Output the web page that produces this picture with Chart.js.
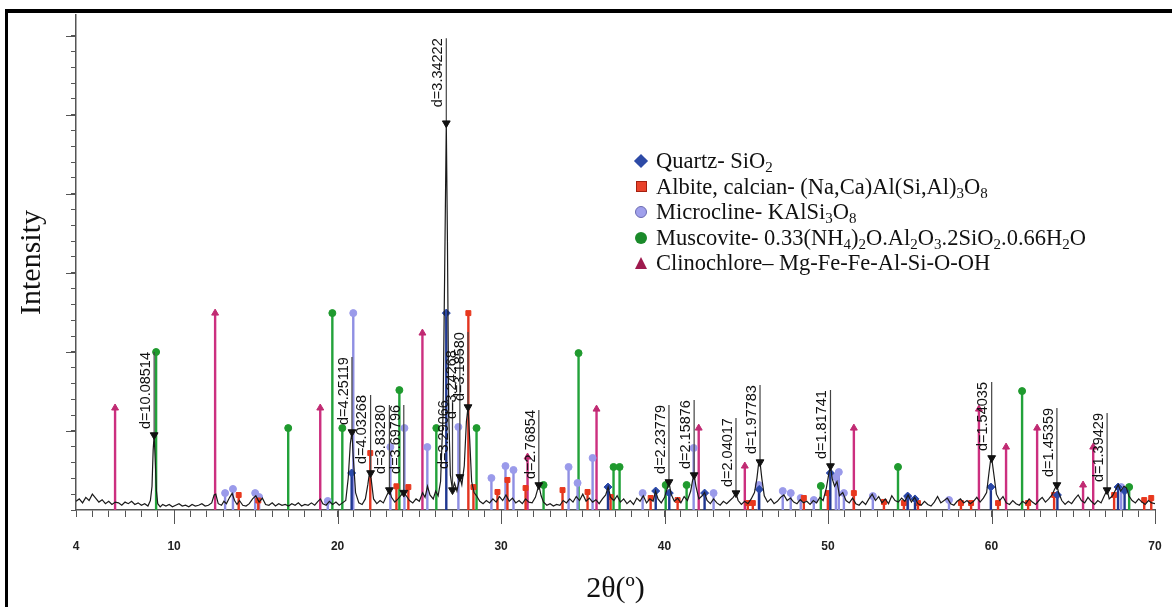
<!DOCTYPE html>
<html>
<head>
<meta charset="utf-8">
<title>XRD pattern</title>
<script src="https://cdn.jsdelivr.net/npm/chart.js"></script>
<style>
  html, body { margin: 0; padding: 0; background: #fff; }
  #wrap { position: relative; width: 1172px; height: 607px; overflow: hidden; background: #fff; }
  #chart { position: absolute; left: 0; top: 0; }
  #frame { position: absolute; left: 5px; top: 9px; right: 0; bottom: 0; border-top: 4px solid #000; border-left: 3px solid #000; pointer-events: none; }
  #legend { position: absolute; left: 632px; top: 148px; font-family: 'Liberation Serif', 'Times New Roman', serif; font-size: 22.5px; color: #111; line-height: 25.5px; }
  #legend .row { position: relative; white-space: nowrap; padding-left: 24px; height: 25.5px; }
  #legend sub { font-size: 15px; vertical-align: -4px; line-height: 0; }
  .mk { position: absolute; box-sizing: border-box; }
  .diamond { left: 4px; top: 8px; width: 10px; height: 10px; transform: rotate(45deg); }
  .square { left: 3.5px; top: 7.5px; width: 11px; height: 11px; border: 1px solid #a52010; }
  .circle { left: 3px; top: 7px; width: 12px; height: 12px; border-radius: 50%; }
  .triangle { left: 2.5px; top: 6.5px; width: 0; height: 0; border-left: 6.5px solid transparent; border-right: 6.5px solid transparent; border-bottom: 12px solid; }
</style>
</head>
<body>
<div id="wrap">
  <canvas id="chart" width="1172" height="607"></canvas>
  <div id="legend"></div>
  <div id="frame"></div>
</div>
<script>
// axis
const thetaMin = 4, thetaMax = 70;
const xLabelTicks = [4, 10, 20, 30, 40, 50, 60, 70];
const xMajorTicks = [10, 20, 30, 40, 50, 60, 70];
const yMax = 3130;
const yMajorTicks = [500, 1000, 1500, 2000, 2500, 3000];

// measured pattern [2theta, counts]
const trace = [
  [4.0,55],[4.2,70],[4.4,45],[4.6,80],[4.8,60],[5.0,100],[5.2,75],[5.4,50],[5.6,65],[5.8,40],
  [6.0,55],[6.2,35],[6.4,50],[6.6,45],[6.8,30],[7.0,50],[7.2,40],[7.4,55],[7.6,35],[7.8,45],
  [8.0,30],[8.2,40],[8.4,25],[8.55,60],[8.65,150],[8.72,380],[8.78,474],[8.84,330],[8.92,120],[9.0,40],
  [9.15,20],[9.3,35],[9.5,25],[9.7,35],[9.9,20],[10.1,30],[10.3,40],[10.5,25],[10.7,30],[10.9,20],
  [11.1,35],[11.3,25],[11.5,30],[11.7,40],[11.9,25],[12.1,30],[12.3,45],[12.45,95],[12.55,100],[12.7,40],
  [12.9,30],[13.05,55],[13.2,40],[13.4,80],[13.55,105],[13.7,60],[13.85,35],[14.0,60],[14.2,30],[14.4,25],
  [14.6,40],[14.8,70],[15.0,90],[15.2,50],[15.4,75],[15.6,35],[15.8,30],[16.0,45],[16.2,25],[16.4,40],
  [16.6,30],[16.8,35],[17.0,25],[17.2,40],[17.4,30],[17.6,45],[17.8,25],[18.0,35],[18.2,30],[18.4,45],
  [18.6,30],[18.8,55],[18.95,70],[19.1,40],[19.3,30],[19.5,55],[19.7,35],[19.9,50],[20.1,30],[20.3,45],
  [20.5,60],[20.65,200],[20.78,420],[20.88,493],[20.96,330],[21.1,110],[21.3,45],[21.5,35],[21.7,70],[21.85,160],
  [21.95,234],[22.05,200],[22.2,70],[22.4,40],[22.6,60],[22.8,45],[23.0,90],[23.17,126],[23.3,80],[23.5,50],
  [23.7,70],[23.9,95],[24.05,110],[24.2,90],[24.4,60],[24.6,45],[24.8,70],[25.0,55],[25.2,110],[25.35,80],
  [25.5,150],[25.65,95],[25.85,70],[26.0,120],[26.15,90],[26.3,180],[26.45,600],[26.55,1500],[26.65,2446],[26.72,1700],
  [26.8,600],[26.9,220],[27.03,126],[27.15,170],[27.3,120],[27.48,209],[27.6,160],[27.75,280],[27.88,560],[27.98,651],
  [28.08,450],[28.2,180],[28.35,110],[28.5,90],[28.7,55],[28.9,40],[29.1,60],[29.3,45],[29.5,70],[29.7,50],
  [29.9,85],[30.1,60],[30.3,95],[30.5,55],[30.7,75],[30.9,45],[31.1,60],[31.3,40],[31.5,70],[31.7,50],
  [31.9,45],[32.1,80],[32.31,158],[32.45,90],[32.6,50],[32.8,30],[33.0,40],[33.2,25],[33.4,35],[33.6,30],
  [33.8,60],[34.0,45],[34.2,70],[34.4,50],[34.6,85],[34.8,60],[35.0,100],[35.2,55],[35.4,75],[35.6,50],
  [35.8,65],[36.0,40],[36.2,70],[36.4,95],[36.55,145],[36.7,80],[36.9,60],[37.1,90],[37.3,50],[37.5,70],
  [37.7,40],[37.9,60],[38.1,35],[38.3,75],[38.5,55],[38.7,90],[38.9,45],[39.1,70],[39.3,55],[39.45,120],
  [39.6,70],[39.8,45],[40.0,80],[40.15,130],[40.27,177],[40.4,100],[40.6,55],[40.8,75],[41.0,45],[41.2,85],
  [41.4,60],[41.6,120],[41.72,190],[41.81,221],[41.92,150],[42.1,70],[42.3,90],[42.45,110],[42.6,60],[42.8,40],
  [43.0,70],[43.2,45],[43.4,30],[43.6,55],[43.8,40],[44.0,60],[44.2,80],[44.37,107],[44.5,60],[44.7,35],
  [44.9,55],[45.1,40],[45.3,70],[45.5,110],[45.65,200],[45.75,290],[45.84,303],[45.95,200],[46.1,90],[46.3,50],
  [46.5,70],[46.7,40],[46.9,55],[47.1,80],[47.3,95],[47.5,60],[47.7,75],[47.9,50],[48.1,40],[48.3,65],
  [48.5,45],[48.7,55],[48.9,35],[49.1,60],[49.3,45],[49.5,80],[49.7,60],[49.9,140],[50.05,230],[50.15,278],
  [50.25,200],[50.4,150],[50.55,180],[50.7,90],[50.9,110],[51.1,60],[51.3,45],[51.5,75],[51.7,40],[51.9,30],
  [52.1,55],[52.3,35],[52.5,70],[52.7,100],[52.9,60],[53.1,85],[53.3,45],[53.5,70],[53.7,40],[53.9,90],
  [54.1,60],[54.3,50],[54.5,75],[54.7,55],[54.9,95],[55.1,50],[55.3,80],[55.5,40],[55.7,30],[55.9,55],
  [56.1,35],[56.3,25],[56.5,50],[56.7,85],[56.9,45],[57.1,60],[57.3,75],[57.5,40],[57.7,30],[57.9,55],
  [58.1,70],[58.3,45],[58.5,60],[58.7,40],[58.9,55],[59.1,80],[59.3,50],[59.5,75],[59.7,110],[59.85,240],
  [59.95,320],[60.01,329],[60.15,220],[60.3,100],[60.5,60],[60.7,85],[60.9,45],[61.1,35],[61.3,60],[61.5,40],
  [61.7,30],[61.9,55],[62.1,40],[62.3,70],[62.5,50],[62.7,35],[62.9,60],[63.1,80],[63.3,50],[63.5,70],
  [63.7,95],[63.85,130],[64.0,158],[64.1,110],[64.3,60],[64.5,35],[64.7,55],[64.9,40],[65.1,70],[65.3,95],
  [65.5,60],[65.7,45],[65.9,80],[66.1,55],[66.3,35],[66.5,60],[66.7,45],[66.9,90],[67.07,126],[67.2,70],
  [67.4,90],[67.6,130],[67.75,160],[67.9,120],[68.1,150],[68.25,140],[68.4,90],[68.6,60],[68.8,45],[69.0,70],
  [69.2,50],[69.4,35],[69.6,60],[69.8,45],[70.0,40]
];

// reference phase lines: positions (2theta) and heights (counts)
const quartzPos = [20.86, 26.65, 36.54, 39.46, 40.29, 42.45, 45.79, 50.14, 54.87, 55.32, 59.96, 64.03, 67.74, 68.14];
const quartzInt = [234, 1245, 145, 120, 107, 107, 130, 234, 88, 70, 145, 95, 145, 120];

const albitePos = [13.95, 15.15, 22.0, 23.6, 24.33, 28.0, 28.31, 29.78, 30.39, 31.5, 33.76, 35.29, 36.7, 39.15, 40.8, 45.09, 45.4, 48.52, 49.99, 51.58, 53.42, 54.64, 55.5, 58.13, 58.75, 60.4, 62.24, 63.83, 67.5, 69.34, 69.77];
const albiteInt = [95, 60, 360, 150, 145, 1245, 145, 114, 190, 139, 126, 114, 82, 76, 63, 44, 44, 76, 107, 107, 51, 44, 44, 44, 44, 44, 44, 95, 95, 63, 76];

const microPos = [13.12, 13.6, 14.96, 15.2, 19.4, 20.96, 23.23, 24.09, 25.49, 27.39, 29.41, 30.27, 30.76, 34.13, 34.68, 35.6, 38.66, 41.78, 43.0, 45.76, 47.23, 47.72, 48.33, 49.13, 50.48, 50.66, 50.97, 52.74, 54.89, 57.4, 67.93];
const microInt = [107, 133, 107, 82, 57, 1245, 398, 518, 398, 525, 202, 278, 253, 272, 171, 329, 107, 392, 107, 158, 120, 107, 76, 63, 209, 240, 107, 88, 82, 63, 145];

const muscPos = [8.9, 16.98, 19.68, 20.29, 23.78, 26.04, 28.5, 32.6, 34.74, 36.88, 37.25, 40.07, 41.35, 49.56, 54.28, 61.87, 68.42];
const muscInt = [999, 518, 1245, 518, 758, 518, 518, 158, 992, 272, 272, 158, 158, 152, 272, 752, 145];

const clinoPos = [6.39, 12.51, 18.94, 25.19, 31.62, 35.84, 42.09, 44.91, 51.58, 59.23, 60.89, 62.79, 65.6, 66.22];
const clinoInt = [645, 1245, 645, 1119, 335, 638, 518, 278, 518, 638, 398, 518, 158, 398];

// labelled peaks
const dTheta = [8.78, 20.88, 22.02, 23.17, 24.05, 26.65, 27.03, 27.48, 27.98, 32.31, 40.27, 41.81, 44.37, 45.84, 50.15, 60.01, 64.0, 67.07];
const dPeak  = [474, 493, 234, 126, 110, 2446, 126, 209, 651, 158, 177, 221, 107, 303, 278, 329, 158, 126];
const dTop   = [999, 967, 727, 664, 664, 2983, 695, 1011, 1125, 632, 664, 695, 581, 790, 758, 809, 645, 613];
const dText  = ['d=10.08514', 'd=4.25119', 'd=4.03268', 'd=3.83280', 'd=3.69796', 'd=3.34222', 'd=3.29066', 'd=3.24268',
                'd=3.18580', 'd=2.76854', 'd=2.23779', 'd=2.15876', 'd=2.04017', 'd=1.97783', 'd=1.81741', 'd=1.54035',
                'd=1.45359', 'd=1.39429'];

// legend
const legendHtml = [
  'Quartz- SiO<sub>2</sub>',
  'Albite, calcian- (Na,Ca)Al(Si,Al)<sub>3</sub>O<sub>8</sub>',
  'Microcline- KAlSi<sub>3</sub>O<sub>8</sub>',
  'Muscovite- 0.33(NH<sub>4</sub>)<sub>2</sub>O.Al<sub>2</sub>O<sub>3</sub>.2SiO<sub>2</sub>.0.66H<sub>2</sub>O',
  'Clinochlore\u2013 Mg-Fe-Fe-Al-Si-O-OH'
];
const legendShape = ['diamond', 'square', 'circle', 'circle', 'triangle'];
const legendColor = ['#2d4aa6', '#e9432b', '#a0a0ec', '#1a8a2a', '#9e1a4e'];

const legendBox = document.getElementById('legend');
legendHtml.forEach((h, i) => {
  const row = document.createElement('div');
  row.className = 'row';
  const mk = document.createElement('span');
  mk.className = 'mk ' + legendShape[i];
  if (legendShape[i] === 'triangle') mk.style.borderBottomColor = legendColor[i];
  else mk.style.background = legendColor[i];
  if (i === 2) mk.style.border = '1px solid #6a6ab0';
  row.appendChild(mk);
  row.insertAdjacentHTML('beforeend', h);
  legendBox.appendChild(row);
});

function sticks(pos, vals) {
  const pts = [];
  pos.forEach((p, i) => {
    pts.push({ x: p, y: 0 }, { x: p, y: vals[i] }, { x: p, y: null });
  });
  return pts;
}

function stickSet(label, pos, vals, line, fill, style, r, order) {
  return {
    label: label,
    data: sticks(pos, vals),
    borderColor: line,
    borderWidth: 2.4,
    pointStyle: style,
    pointBackgroundColor: fill,
    pointBorderColor: fill,
    pointBorderWidth: 1,
    pointRadius: ctx => (ctx.raw && ctx.raw.y > 0 ? r : 0),
    order: order
  };
}

const leaders = [];
dTheta.forEach((t, i) => {
  leaders.push({ x: t, y: dPeak[i] }, { x: t, y: dTop[i] }, { x: t, y: null });
});

const majorTicks = {
  id: 'majorTicks',
  afterDraw(chart) {
    const { ctx, chartArea } = chart;
    const x = chart.scales.x, y = chart.scales.y;
    ctx.save();
    ctx.strokeStyle = '#555';
    ctx.lineWidth = 1;
    xMajorTicks.forEach(v => {
      const px = Math.round(x.getPixelForValue(v)) + 0.5;
      ctx.beginPath(); ctx.moveTo(px, chartArea.bottom); ctx.lineTo(px, chartArea.bottom + 14); ctx.stroke();
    });
    yMajorTicks.forEach(v => {
      const py = Math.round(y.getPixelForValue(v)) + 0.5;
      ctx.beginPath(); ctx.moveTo(chartArea.left - 10, py); ctx.lineTo(chartArea.left, py); ctx.stroke();
    });
    ctx.restore();
  }
};

const dLabels = {
  id: 'dLabels',
  afterDatasetsDraw(chart) {
    const { ctx } = chart;
    const x = chart.scales.x, y = chart.scales.y;
    ctx.save();
    ctx.fillStyle = '#111';
    ctx.font = '14.5px "Liberation Sans", Arial, sans-serif';
    ctx.textAlign = 'right';
    ctx.textBaseline = 'bottom';
    dTheta.forEach((t, i) => {
      const px = x.getPixelForValue(t);
      const py = y.getPixelForValue(dTop[i]);
      ctx.save();
      ctx.translate(px - 1, py);
      ctx.rotate(-Math.PI / 2);
      ctx.fillText(dText[i], 0, 0);
      ctx.restore();
    });
    ctx.restore();
  }
};

new Chart(document.getElementById('chart'), {
  type: 'line',
  data: {
    datasets: [
      {
        label: 'peaks',
        data: dTheta.map((t, i) => ({ x: t, y: dPeak[i] })),
        showLine: false,
        pointStyle: 'triangle',
        rotation: 180,
        pointRadius: 4.5,
        pointBackgroundColor: '#111',
        pointBorderColor: '#111',
        order: 0
      },
      {
        label: 'leaders',
        data: leaders,
        borderColor: '#444',
        borderWidth: 1.2,
        pointRadius: 0,
        order: 1
      },
      {
        label: 'pattern',
        data: trace.map(p => ({ x: p[0], y: p[1] })),
        borderColor: '#1a1a1a',
        borderWidth: 1.2,
        pointRadius: 0,
        order: 2
      },
      stickSet('Quartz', quartzPos, quartzInt, '#1f3790', '#2a48a8', 'rectRot', 4, 3),
      stickSet('Albite', albitePos, albiteInt, '#e2341f', '#e8381e', 'rect', 3.5, 4),
      stickSet('Microcline', microPos, microInt, '#8f8fe3', '#9a9aea', 'circle', 3.5, 5),
      stickSet('Muscovite', muscPos, muscInt, '#22a23a', '#1f9a2e', 'circle', 3.5, 6),
      stickSet('Clinochlore', clinoPos, clinoInt, '#cc2f7f', '#c02a72', 'triangle', 4, 7)
    ]
  },
  options: {
    responsive: false,
    animation: false,
    devicePixelRatio: 1,
    layout: { padding: { top: 15, right: 17, left: 0, bottom: 0 } },
    plugins: { legend: { display: false }, tooltip: { enabled: false } },
    elements: { line: { tension: 0 } },
    scales: {
      x: {
        type: 'linear',
        min: thetaMin,
        max: thetaMax,
        afterFit: s => { s.height = 97; s.paddingLeft = 0; s.paddingRight = 0; },
        ticks: {
          stepSize: 1,
          autoSkip: false,
          maxRotation: 0,
          padding: 22,
          color: '#222',
          font: { family: '"Liberation Sans Narrow", "Liberation Sans", Arial, sans-serif', size: 12, weight: 'bold' },
          callback: v => (xLabelTicks.includes(v) ? String(v) : '')
        },
        grid: { drawOnChartArea: false, tickLength: 7, tickColor: '#555', tickWidth: 1 },
        border: { color: '#555', width: 1.5 },
        title: {
          display: true,
          text: '2\u03b8(\u00ba)',
          color: '#111',
          font: { family: '"Liberation Serif", "Times New Roman", serif', size: 30, weight: 'normal' },
          padding: { top: 0, bottom: 0 }
        }
      },
      y: {
        min: 0,
        max: yMax,
        afterFit: s => { s.width = 76; },
        ticks: { stepSize: 100, display: false },
        grid: {
          drawOnChartArea: false,
          tickLength: 5,
          tickWidth: 1,
          tickColor: ctx => (ctx.tick && ctx.tick.value % 100 === 0 ? '#555' : 'rgba(0,0,0,0)')
        },
        border: { color: '#555', width: 1.5 },
        title: {
          display: true,
          text: 'Intensity',
          color: '#111',
          font: { family: '"Liberation Serif", "Times New Roman", serif', size: 30, weight: 'normal' },
          padding: { top: 14, bottom: 0 }
        }
      }
    }
  },
  plugins: [majorTicks, dLabels]
});
</script>
</body>
</html>
